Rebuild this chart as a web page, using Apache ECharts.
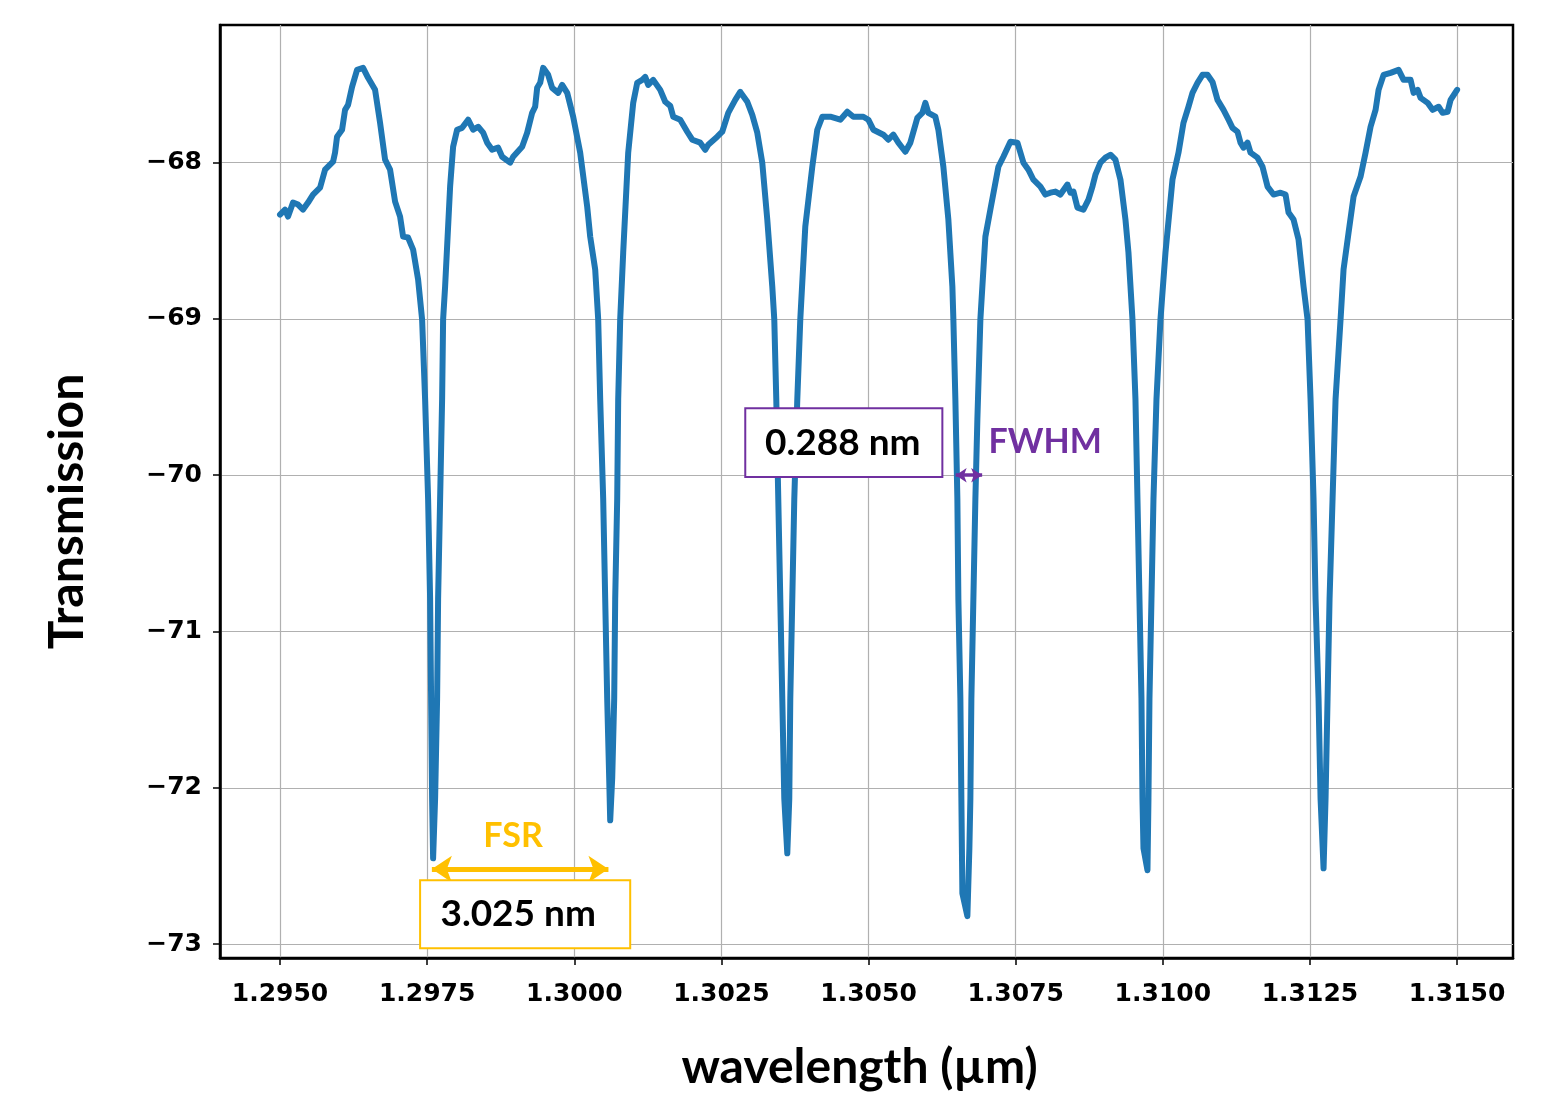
<!DOCTYPE html>
<html><head><meta charset="utf-8">
<script src="https://cdn.jsdelivr.net/npm/echarts@6/dist/echarts.min.js"></script>
<style>html,body{margin:0;padding:0;background:#fff}#c{width:1562px;height:1097px}</style>
</head><body><div id="c"></div>
<script>
// wavelength in µm
const wavelength = [
1.295000,1.295085,1.295136,1.295221,1.295306,1.295391,1.295476,1.295561,1.295680,1.295765,
1.295901,1.295935,1.295969,1.296054,1.296105,1.296156,1.296224,1.296309,1.296411,1.296496,
1.296615,1.296700,1.296785,1.296870,1.296955,1.297040,1.297091,1.297176,1.297261,1.297346,
1.297414,1.297465,1.297516,1.297550,1.297567,1.297584,1.297601,1.297635,1.297669,1.297686,
1.297720,1.297754,1.297771,1.297805,1.297890,1.297941,1.298009,1.298094,1.298196,1.298281,
1.298366,1.298451,1.298519,1.298604,1.298706,1.298774,1.298910,1.298961,1.299114,1.299199,
1.299284,1.299335,1.299369,1.299420,1.299471,1.299556,1.299624,1.299726,1.299794,1.299879,
1.299981,1.300100,1.300219,1.300270,1.300355,1.300406,1.300440,1.300491,1.300525,1.300559,
1.300593,1.300610,1.300644,1.300678,1.300695,1.300729,1.300746,1.300780,1.300831,1.300916,
1.301001,1.301069,1.301154,1.301205,1.301256,1.301341,1.301460,1.301545,1.301630,1.301681,
1.301800,1.301919,1.302004,1.302140,1.302225,1.302276,1.302429,1.302514,1.302616,1.302735,
1.302820,1.302939,1.303024,1.303109,1.303194,1.303279,1.303364,1.303398,1.303432,1.303466,
1.303500,1.303534,1.303568,1.303619,1.303653,1.303670,1.303704,1.303738,1.303789,1.303840,
1.303925,1.304044,1.304129,1.304214,1.304350,1.304520,1.304639,1.304741,1.304911,1.304996,
1.305081,1.305251,1.305336,1.305421,1.305506,1.305625,1.305710,1.305829,1.305914,1.305965,
1.306016,1.306135,1.306186,1.306271,1.306356,1.306424,1.306441,1.306475,1.306509,1.306526,
1.306560,1.306577,1.306594,1.306679,1.306713,1.306730,1.306747,1.306781,1.306815,1.306849,
1.306900,1.306985,1.307070,1.307206,1.307291,1.307410,1.307529,1.307631,1.307716,1.307801,
1.307920,1.308005,1.308090,1.308175,1.308260,1.308379,1.308430,1.308481,1.308549,1.308651,
1.308736,1.308804,1.308855,1.308940,1.309025,1.309110,1.309195,1.309280,1.309365,1.309416,
1.309484,1.309535,1.309569,1.309603,1.309637,1.309654,1.309671,1.309739,1.309756,1.309773,
1.309807,1.309841,1.309892,1.309960,1.310045,1.310164,1.310266,1.310351,1.310436,1.310504,
1.310589,1.310674,1.310759,1.310844,1.310929,1.311031,1.311116,1.311184,1.311269,1.311320,
1.311371,1.311439,1.311490,1.311609,1.311694,1.311779,1.311881,1.312000,1.312085,1.312136,
1.312221,1.312306,1.312391,1.312459,1.312510,1.312561,1.312595,1.312646,1.312680,1.312731,
1.312765,1.312799,1.312833,1.312884,1.312935,1.313020,1.313071,1.313156,1.313241,1.313360,
1.313445,1.313530,1.313615,1.313666,1.313751,1.313870,1.314006,1.314091,1.314210,1.314261,
1.314329,1.314380,1.314499,1.314584,1.314686,1.314754,1.314839,1.314890,1.315000
];
const transmission = [
-68.332,-68.300,-68.345,-68.255,-68.268,-68.300,-68.255,-68.204,-68.160,-68.045,
-67.994,-67.936,-67.834,-67.789,-67.662,-67.630,-67.515,-67.406,-67.393,-67.457,
-67.534,-67.745,-67.981,-68.045,-68.249,-68.345,-68.473,-68.479,-68.556,-68.747,
-69.003,-69.514,-70.152,-70.791,-71.429,-72.068,-72.451,-72.068,-71.429,-70.791,
-70.152,-69.514,-69.003,-68.792,-68.153,-67.898,-67.789,-67.777,-67.725,-67.789,
-67.770,-67.808,-67.872,-67.917,-67.904,-67.962,-68.000,-67.962,-67.898,-67.808,
-67.681,-67.642,-67.521,-67.489,-67.393,-67.438,-67.521,-67.553,-67.502,-67.553,
-67.706,-67.936,-68.281,-68.473,-68.683,-69.003,-69.514,-70.152,-70.791,-71.429,
-71.940,-72.208,-71.940,-71.429,-70.791,-70.152,-69.514,-69.003,-68.575,-67.936,
-67.617,-67.489,-67.470,-67.451,-67.502,-67.470,-67.534,-67.610,-67.636,-67.706,
-67.725,-67.802,-67.853,-67.872,-67.917,-67.885,-67.834,-67.802,-67.681,-67.598,
-67.547,-67.610,-67.694,-67.808,-68.000,-68.364,-68.792,-69.003,-69.514,-70.152,
-70.791,-71.429,-72.068,-72.419,-72.068,-71.429,-70.791,-70.152,-69.514,-69.003,
-68.409,-68.026,-67.789,-67.706,-67.706,-67.725,-67.674,-67.706,-67.706,-67.725,
-67.789,-67.821,-67.853,-67.821,-67.872,-67.930,-67.872,-67.713,-67.681,-67.617,
-67.681,-67.706,-67.789,-68.026,-68.364,-68.792,-69.003,-69.514,-70.152,-70.791,
-71.429,-72.068,-72.675,-72.821,-72.387,-72.068,-71.429,-70.791,-70.152,-69.641,
-69.003,-68.473,-68.300,-68.026,-67.962,-67.866,-67.872,-68.000,-68.045,-68.109,
-68.153,-68.204,-68.192,-68.185,-68.204,-68.140,-68.192,-68.185,-68.287,-68.300,
-68.236,-68.153,-68.077,-68.000,-67.968,-67.949,-67.981,-68.109,-68.364,-68.575,
-69.003,-69.514,-70.152,-70.791,-71.429,-72.068,-72.387,-72.528,-72.068,-71.429,
-70.791,-70.152,-69.514,-69.003,-68.575,-68.109,-67.936,-67.745,-67.642,-67.553,
-67.489,-67.438,-67.438,-67.483,-67.598,-67.662,-67.725,-67.777,-67.802,-67.872,
-67.904,-67.872,-67.936,-67.968,-68.026,-68.153,-68.204,-68.192,-68.204,-68.319,
-68.364,-68.492,-68.792,-69.003,-69.514,-70.152,-70.791,-71.429,-72.068,-72.515,
-72.068,-71.429,-70.791,-70.152,-69.514,-69.003,-68.683,-68.447,-68.217,-68.089,
-67.936,-67.770,-67.662,-67.534,-67.438,-67.425,-67.406,-67.470,-67.470,-67.553,
-67.534,-67.585,-67.617,-67.662,-67.642,-67.681,-67.674,-67.598,-67.534
];
const xTicks = [1.2950, 1.2975, 1.3000, 1.3025, 1.3050, 1.3075, 1.3100, 1.3125, 1.3150];
const yTicks = [-73, -72, -71, -70, -69, -68];
const xRange = [1.29398, 1.31595];
const yRange = [-73.089, -67.119];

// annotations (data coordinates)
const fsrArrowX = [1.29758, 1.30058];
const fsrArrowY = -72.52;
const fsrLabelPos = [1.29896, -72.31];
const fsrBox = {x: [1.29738, 1.30095], y: [-72.591, -73.026]};
const fsrValue = '3.025 nm';
const fwhmArrowX = [1.30648, 1.30693];
const fwhmArrowY = -70.0;
const fwhmLabelPos = [1.30800, -69.79];
const fwhmBox = {x: [1.302905, 1.306254], y: [-69.571, -70.011]};
const fwhmValue = '0.288 nm';

const seriesData = wavelength.map((w, i) => [w, transmission[i]]);
const tickFont = "'DejaVu Sans', sans-serif";
const titleFont = "Lato, 'Open Sans', sans-serif";
const ORANGE = '#FFC000', PURPLE = '#7030A0';

const chart = echarts.init(document.getElementById('c'), null, {renderer: 'canvas'});
chart.setOption({
  animation: false,
  backgroundColor: '#fff',
  grid: {left: 220, top: 25, width: 1293, height: 935, show: true, borderColor: '#000', borderWidth: 2.5, backgroundColor: 'transparent'},
  xAxis: {
    type: 'value', min: xRange[0], max: xRange[1],
    name: 'wavelength (µm)', nameLocation: 'middle', nameGap: 86,
    nameTextStyle: {fontFamily: titleFont, fontWeight: 'bold', fontSize: 48, color: '#000', padding: [0, 14, 0, 0]},
    axisLine: {show: true, onZero: false, lineStyle: {color: '#000', width: 2.5}},
    axisTick: {show: true, length: 7, customValues: xTicks, lineStyle: {color: '#000', width: 1.5}},
    axisLabel: {customValues: xTicks, margin: 24, fontFamily: tickFont, fontWeight: 'bold', fontSize: 25, color: '#000',
      formatter: v => v.toFixed(4)},
    splitLine: {show: true, lineStyle: {color: '#b0b0b0', width: 1.2}}
  },
  yAxis: {
    type: 'value', min: yRange[0], max: yRange[1],
    name: 'Transmission', nameLocation: 'middle', nameGap: 128, nameRotate: 90,
    nameTextStyle: {fontFamily: titleFont, fontWeight: 'bold', fontSize: 48, color: '#000', padding: [0, 40, 0, 0]},
    axisLine: {show: true, onZero: false, lineStyle: {color: '#000', width: 2.5}},
    axisTick: {show: true, length: 7, customValues: yTicks, lineStyle: {color: '#000', width: 1.5}},
    axisLabel: {customValues: yTicks, margin: 18, fontFamily: tickFont, fontWeight: 'bold', fontSize: 25, color: '#000',
      formatter: v => (v < 0 ? '\u2212' + Math.abs(v) : String(v))},
    splitLine: {show: true, lineStyle: {color: '#b0b0b0', width: 1.2}}
  },
  series: [{
    type: 'line', data: seriesData, showSymbol: false, symbol: 'none',
    lineStyle: {color: '#1f77b4', width: 6, join: 'round', cap: 'round'},
    z: 3,
    markLine: {
      silent: true, animation: false,
      label: {show: false},
      data: [
        [{coord: [fsrArrowX[0], fsrArrowY], symbol: 'arrow', symbolSize: [20, 20], lineStyle: {color: ORANGE, width: 5, type: 'solid'}, itemStyle: {color: ORANGE}},
         {coord: [fsrArrowX[1], fsrArrowY], symbol: 'arrow', symbolSize: [20, 20]}],
        [{coord: [fwhmArrowX[0], fwhmArrowY], symbol: 'arrow', symbolSize: [11, 11], lineStyle: {color: PURPLE, width: 3.5, type: 'solid'}, itemStyle: {color: PURPLE}},
         {coord: [fwhmArrowX[1], fwhmArrowY], symbol: 'arrow', symbolSize: [11, 11]}]
      ]
    }
  }]
});

function px(x, y) { return chart.convertToPixel({gridIndex: 0}, [x, y]); }
function boxGraphic(box, color, text, dx) {
  const a = px(box.x[0], box.y[0]), b = px(box.x[1], box.y[1]);
  return [
    {type: 'rect', shape: {x: a[0], y: a[1], width: b[0] - a[0], height: b[1] - a[1]},
     style: {fill: '#fff', stroke: color, lineWidth: 2}, z: 100},
    {type: 'text', x: (a[0] + b[0]) / 2 + dx, y: (a[1] + b[1]) / 2, z: 101,
     style: {text: text, fill: '#000', font: 'bold 37px ' + titleFont, align: 'center', verticalAlign: 'middle'}}
  ];
}
const fl = px(fsrLabelPos[0], fsrLabelPos[1]);
const wl = px(fwhmLabelPos[0], fwhmLabelPos[1]);
chart.setOption({
  graphic: [].concat(
    boxGraphic(fsrBox, ORANGE, fsrValue, -7),
    boxGraphic(fwhmBox, PURPLE, fwhmValue, -1),
    [{type: 'text', x: fl[0], y: fl[1], z: 101, style: {text: 'FSR', fill: ORANGE, font: 'bold 34px ' + titleFont, align: 'center', verticalAlign: 'middle'}},
     {type: 'text', x: wl[0], y: wl[1], z: 101, style: {text: 'FWHM', fill: PURPLE, font: 'bold 34px ' + titleFont, align: 'center', verticalAlign: 'middle'}}]
  )
});
</script></body></html>
